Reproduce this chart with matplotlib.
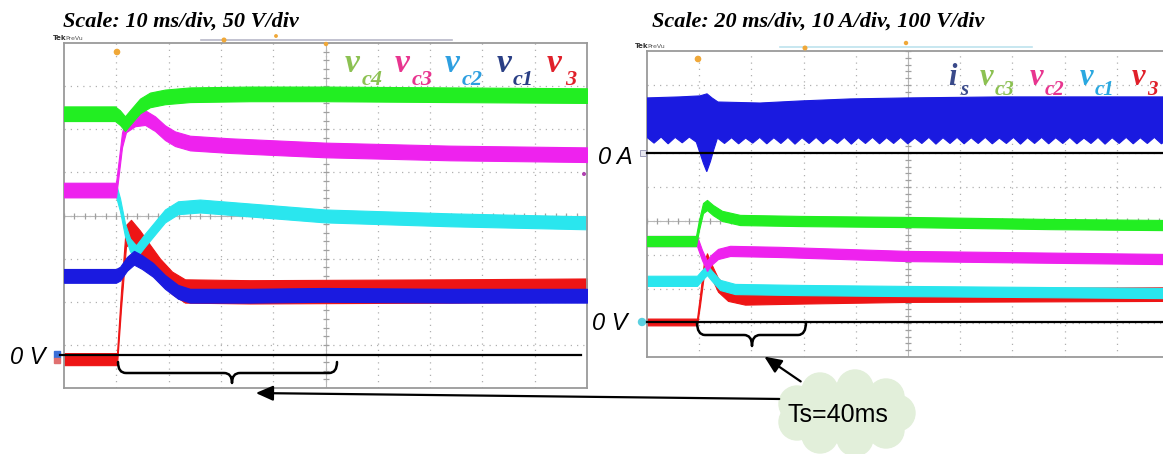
import numpy as np
import matplotlib
matplotlib.use('Agg')
import matplotlib.pyplot as plt
from matplotlib.patches import Circle, Ellipse, FancyArrowPatch, PathPatch, Rectangle
from matplotlib.path import Path
from matplotlib.collections import LineCollection

# ---------------- data (time in ms, level in scope divisions from screen bottom) -------------
# Left scope: 10 ms/div, 50 V/div
L_vc4_t = [0, 9.75, 10.7, 11.66, 12.62, 14.53, 16.44, 19.31, 24.09, 35.56, 49.9, 73.8, 100]
L_vc4_v = [6.36, 6.36, 6.27, 6.13, 6.27, 6.54, 6.68, 6.75, 6.80, 6.82, 6.82, 6.80, 6.78]
L_vc4_w = 0.17

L_vc3_t = [0, 9.94, 10.52, 11.09, 11.85, 13.58, 15.49, 17.4, 19.31, 21.22, 24.09, 31.74, 49.9, 73.8, 100]
L_vc3_v = [4.59, 4.59, 5.17, 5.75, 6.10, 6.24, 6.27, 6.13, 5.92, 5.78, 5.68, 5.62, 5.52, 5.45, 5.41]
L_vc3_w = 0.17

L_vc2_t = [0, 9.94, 10.71, 11.66, 12.62, 13.77, 15.49, 17.4, 19.31, 21.8, 26.0, 49.9, 73.8, 100]
L_vc2_v = [4.59, 4.59, 4.25, 3.67, 3.32, 3.16, 3.43, 3.71, 3.99, 4.18, 4.22, 3.99, 3.90, 3.83]
L_vc2_w = 0.15

L_vc1_t = [0, 9.94, 10.71, 12.05, 13.38, 14.91, 17.02, 19.31, 21.8, 24.09, 35.56, 49.9, 73.8, 100]
L_vc1_v = [2.60, 2.60, 2.65, 2.88, 3.02, 2.92, 2.74, 2.46, 2.23, 2.14, 2.14, 2.16, 2.14, 2.14]
L_vc1_w = 0.16

L_v3_t = [0, 10.13, 10.9, 11.85, 12.81, 14.53, 16.44, 18.36, 20.65, 23.14, 35.56, 73.8, 100]
L_v3_v = [0.67, 0.67, 2.04, 3.53, 3.64, 3.39, 3.06, 2.74, 2.44, 2.25, 2.23, 2.25, 2.27]
L_v3_w = [0.14, 0.14, 0.20, 0.25, 0.26, 0.26, 0.26, 0.26, 0.26, 0.27, 0.27, 0.27, 0.27]

# Right scope: 20 ms/div, 10 A/div, 100 V/div
R_vc3_t = [0, 18.77, 19.92, 21.46, 22.99, 25.29, 28.74, 35.63, 58.62, 100, 154.4, 200]
R_vc3_v = [3.41, 3.41, 3.88, 4.38, 4.47, 4.32, 4.15, 4.03, 4.00, 3.97, 3.91, 3.88]
R_vc3_w = 0.15

R_vc2_t = [0, 19.16, 21.07, 22.99, 24.52, 27.2, 31.8, 50.96, 100, 200]
R_vc2_v = [3.41, 3.41, 3.00, 2.68, 2.85, 3.03, 3.12, 3.09, 2.97, 2.88]
R_vc2_w = 0.15

R_vc1_t = [0, 19.16, 21.46, 22.99, 24.9, 27.97, 33.72, 58.62, 100, 200]
R_vc1_v = [2.24, 2.24, 2.44, 2.56, 2.38, 2.12, 2.00, 1.97, 1.94, 1.88]
R_vc1_w = 0.15

R_v3_t = [0, 19.16, 20.31, 21.84, 22.99, 24.52, 27.2, 31.03, 37.55, 58.62, 100, 200]
R_v3_v = [1.03, 1.03, 1.68, 2.62, 2.85, 2.56, 2.12, 1.85, 1.74, 1.77, 1.82, 1.85]
R_v3_w = [0.10, 0.10, 0.15, 0.18, 0.20, 0.20, 0.20, 0.20, 0.20, 0.20, 0.20, 0.20]

R_is_up_t = [0, 12.6, 20.3, 23.0, 24.9, 27.2, 43.3, 58.6, 77.8, 100, 135.2, 173.6, 200]
R_is_up_v = [7.62, 7.65, 7.68, 7.74, 7.62, 7.50, 7.47, 7.53, 7.59, 7.62, 7.65, 7.65, 7.65]
R_is_lo_t = [0, 2.7, 5.4, 8.1, 10.8, 13.5, 16.2, 18.9, 20.3, 21.6, 22.9, 24.3, 25.6, 27.0,
             29.7, 32.4, 35.1, 37.8, 40.5, 43.2, 45.9, 48.6, 51.3, 54.0, 56.7, 59.4, 62.1,
             64.8, 67.5, 70.2, 72.9, 75.6, 78.3, 81.0, 83.7, 86.4, 89.1, 91.8, 94.5, 97.2,
             99.9, 102.6, 105.3, 108.0, 110.7, 113.4, 116.1, 118.8, 121.5, 124.2, 126.9,
             129.6, 132.3, 135.0, 137.7, 140.4, 143.1, 145.8, 148.5, 151.2, 153.9, 156.6,
             159.3, 162.0, 164.7, 167.4, 170.1, 172.8, 175.5, 178.2, 180.9, 183.6, 186.3,
             189.0, 191.7, 194.4, 197.1, 200.0]
R_is_lo_v = [6.46, 6.29, 6.47, 6.27, 6.46, 6.30, 6.47, 6.32, 6.00, 5.70, 5.45, 5.75, 6.10, 6.44,
             6.28, 6.45, 6.27, 6.44, 6.29, 6.46, 6.27, 6.45, 6.28, 6.46, 6.26, 6.45, 6.28,
             6.46, 6.27, 6.44, 6.28, 6.46, 6.26, 6.45, 6.28, 6.46, 6.27, 6.45, 6.28, 6.46,
             6.27, 6.44, 6.28, 6.46, 6.26, 6.45, 6.28, 6.46, 6.27, 6.45, 6.28,
             6.46, 6.27, 6.44, 6.28, 6.46, 6.26, 6.45, 6.28, 6.46, 6.27, 6.45,
             6.28, 6.46, 6.27, 6.44, 6.28, 6.46, 6.26, 6.45, 6.28, 6.46, 6.27,
             6.45, 6.28, 6.46, 6.27, 6.44]

L_title = "Scale: 10 ms/div, 50 V/div"
R_title = "Scale: 20 ms/div, 10 A/div, 100 V/div"
L_legend = [("v", "c4", "#8cc152"), ("v", "c3", "#e8358f"), ("v", "c2", "#2e9fe0"),
            ("v", "c1", "#2a3f85"), ("v", "3", "#e0202a")]
R_legend = [("i", "s", "#3a4a8a"), ("v", "c3", "#8cc152"), ("v", "c2", "#e8358f"),
            ("v", "c1", "#2aa8e0"), ("v", "3", "#e0202a")]
Ts_label = "Ts=40ms"

GREEN, MAGENTA, CYAN, BLUE, RED = "#22ee22", "#ee22ee", "#2ae6ee", "#1a1ae0", "#ee1515"

# ---------------- figure ----------------
W, H = 1163, 454
fig = plt.figure(figsize=(W / 100, H / 100), dpi=100)
fig.patch.set_facecolor("white")


def rect(x0, y0, x1, y1):
    return [x0 / W, 1 - y1 / H, (x1 - x0) / W, (y1 - y0) / H]


axL = fig.add_axes(rect(64, 43, 587, 388))
axL.set_xlim(0, 100)
axL.set_ylim(0, 8)
axR = fig.add_axes(rect(647, 51, 1169, 357))
axR.set_xlim(0, 200)
axR.set_ylim(0, 9)


def graticule(ax, nx, ny, cy):
    ax.set_xticks([])
    ax.set_yticks([])
    for s in ax.spines.values():
        s.set_color("#9a9a9a")
        s.set_linewidth(1.3)
    for i in range(1, nx):
        ax.plot([i / nx, i / nx], [0, 1], transform=ax.transAxes, color="#b0b0b0",
                lw=0.9, ls=(0, (1, 4)), zorder=0.5)
    for j in range(1, ny):
        ax.plot([0, 1], [j / ny, j / ny], transform=ax.transAxes, color="#b0b0b0",
                lw=0.9, ls=(0, (1, 4)), zorder=0.5)
    segs = []
    bb = ax.get_position()
    fw, fh = fig.get_size_inches() * fig.dpi
    axw, axh = bb.width * fw, bb.height * fh
    tx = 3.0 / axw
    ty = 3.0 / axh
    for k in range(nx * 5 + 1):
        x = k / (nx * 5)
        segs.append([(x, cy - ty), (x, cy + ty)])
    for k in range(ny * 5 + 1):
        y = k / (ny * 5)
        segs.append([(0.5 - tx, y), (0.5 + tx, y)])
    ax.add_collection(LineCollection(segs, colors="#a0a0a0", lw=0.9,
                                     transform=ax.transAxes, zorder=0.6))
    ax.plot([0.5, 0.5], [0, 1], transform=ax.transAxes, color="#b8b8b8", lw=0.8, zorder=0.55)
    ax.plot([0, 1], [cy, cy], transform=ax.transAxes, color="#b8b8b8", lw=0.8, zorder=0.55)


graticule(axL, 10, 8, 0.5)
graticule(axR, 10, 9, 4 / 9)


def band(ax, t, v, w, color, z):
    t = np.asarray(t, float)
    v = np.asarray(v, float)
    w = np.broadcast_to(np.asarray(w, float), v.shape)
    ax.fill_between(t, v - w, v + w, facecolor=color, edgecolor=color, lw=0.8, zorder=z)


band(axL, L_v3_t, L_v3_v, L_v3_w, RED, 1)
band(axL, L_vc2_t, L_vc2_v, L_vc2_w, CYAN, 2)
band(axL, L_vc1_t, L_vc1_v, L_vc1_w, BLUE, 3)
band(axL, L_vc3_t, L_vc3_v, L_vc3_w, MAGENTA, 4)
band(axL, L_vc4_t, L_vc4_v, L_vc4_w, GREEN, 5)

band(axR, R_v3_t, R_v3_v, R_v3_w, RED, 1)
band(axR, R_vc1_t, R_vc1_v, R_vc1_w, CYAN, 2)
band(axR, R_vc2_t, R_vc2_v, R_vc2_w, MAGENTA, 3)
band(axR, R_vc3_t, R_vc3_v, R_vc3_w, GREEN, 4)
axR.fill(np.concatenate([R_is_up_t, R_is_lo_t[::-1]]),
         np.concatenate([R_is_up_v, R_is_lo_v[::-1]]),
         facecolor=BLUE, edgecolor=BLUE, lw=0.8, zorder=5)

# ---------------- overlay in pixel coordinates ----------------
ov = fig.add_axes([0, 0, 1, 1], zorder=10)
ov.set_xlim(0, W)
ov.set_ylim(H, 0)
ov.axis("off")
ov.patch.set_alpha(0)

serif = dict(family="Liberation Serif", weight="bold", style="italic")
ov.text(63, 27, L_title, fontsize=16, va="baseline", ha="left", **serif)
ov.text(652, 27, R_title, fontsize=16, va="baseline", ha="left", **serif)

# legends
L_pos = [(345, 362), (395, 412), (445, 462), (497, 513), (547, 565)]
for (m, s, c), (xm, xs) in zip(L_legend, L_pos):
    ov.text(xm, 72, m, fontsize=24, color=c, va="baseline", ha="left", **serif)
    ov.text(xs, 85, s, fontsize=16, color=c, va="baseline", ha="left", **serif)
R_pos = [(948, 960), (980, 995), (1030, 1045), (1080, 1095), (1132, 1147)]
for (m, s, c), (xm, xs) in zip(R_legend, R_pos):
    ov.text(xm, 85, m, fontsize=22, color=c, va="baseline", ha="left", **serif)
    ov.text(xs, 95, s, fontsize=15, color=c, va="baseline", ha="left", **serif)

# Tek PreVu labels and top bars
for x, y in [(53, 40), (635, 48)]:
    ov.text(x, y, "Tek", fontsize=5, weight="bold", color="#333333", va="baseline")
    ov.text(x + 12, y, "PreVu", fontsize=4.5, color="#555555", va="baseline")
ov.plot([201, 452], [40, 40], color="#b8b8c8", lw=1.2)
ov.plot([780, 1032], [47, 47], color="#bde3ee", lw=1.2)
for x, y, r in [(117, 52, 2.6), (224, 40, 1.8), (276, 36, 1.2), (326, 44, 1.5),
                (698, 59, 2.6), (805, 48, 1.8), (906, 43, 1.5)]:
    ov.add_patch(Circle((x, y), r, color="#f0a838", zorder=3))
ov.add_patch(Circle((584, 174), 1.3, color="#b040b0"))

# zero reference lines and labels
sans_it = dict(family="Liberation Sans", style="italic", fontsize=17)
ov.plot([60, 581], [355, 355], color="black", lw=1.6)
ov.plot([647, 1163], [322, 322], color="black", lw=1.6)
ov.plot([647, 1163], [153, 153], color="black", lw=1.6)
ov.text(10, 357, "0 V", va="center", ha="left", **sans_it)
ov.text(592, 324, "0 V", va="center", ha="left", **sans_it)
ov.text(598, 158, "0 A", va="center", ha="left", **sans_it)
ov.add_patch(Rectangle((54, 351), 6, 7, color="#3a6fd8"))
ov.add_patch(Rectangle((54, 358), 6, 5, color="#e07070"))
ov.add_patch(Rectangle((640, 150), 6, 6, facecolor="#e8e8f0", edgecolor="#9090b0", lw=0.6))
ov.add_patch(Circle((642, 322), 3.5, color="#5ad0e0"))


def brace(x0, x1, xt, ytop, ymid, ytip, r=8):
    verts = [(x0, ytop), (x0, ymid), (x0 + r, ymid),
             (xt - r, ymid), (xt, ymid), (xt, ytip),
             (xt, ymid), (xt + r, ymid),
             (x1 - r, ymid), (x1, ymid), (x1, ytop)]
    codes = [Path.MOVETO, Path.CURVE3, Path.CURVE3,
             Path.LINETO, Path.CURVE3, Path.CURVE3,
             Path.CURVE3, Path.CURVE3,
             Path.LINETO, Path.CURVE3, Path.CURVE3]
    ov.add_patch(PathPatch(Path(verts, codes), facecolor="none", edgecolor="black",
                           lw=1.8, capstyle="round", joinstyle="round"))


brace(118, 337, 232, 362, 373, 383)
brace(697, 806, 752, 322, 335, 346)

# cloud
cloud_c = "#e2efda"
for (cx, cy, r) in [(897, 413, 18), (886, 430, 18), (855, 438, 18), (820, 435, 18),
                    (797, 422, 18), (797, 404, 18), (820, 391, 18), (855, 388, 18),
                    (886, 397, 18)]:
    ov.add_patch(Circle((cx, cy), r, color=cloud_c, zorder=1))
ov.add_patch(Ellipse((846, 413), 115, 60, color=cloud_c, zorder=1))
ov.text(838, 415, Ts_label, fontsize=18, family="Liberation Sans", ha="center",
        va="center", zorder=3)

# arrows
ov.add_patch(FancyArrowPatch((782, 399), (253, 393),
                             arrowstyle="-|>,head_length=0.8,head_width=0.35",
                             mutation_scale=13, lw=1.6, color="black", zorder=4))
ov.add_patch(FancyArrowPatch((803, 383), (762, 355),
                             arrowstyle="-|>,head_length=0.8,head_width=0.35",
                             mutation_scale=13, lw=1.6, color="black", zorder=4))

fig.savefig("out.png", dpi=100)
